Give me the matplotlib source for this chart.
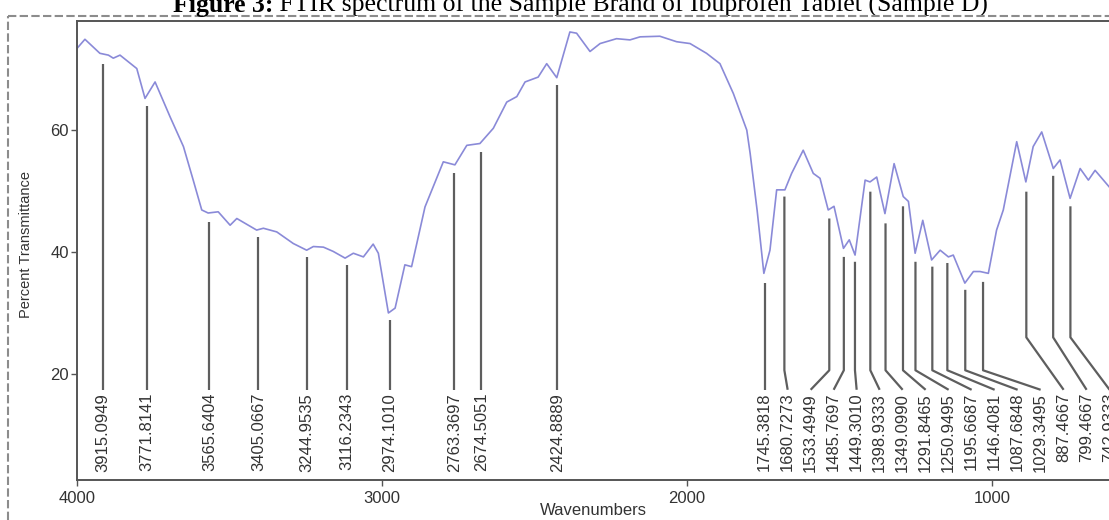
import numpy as np
import matplotlib.pyplot as plt
from matplotlib.lines import Line2D

# FTIR spectrum (cm-1, %T)
wavenumber = [4000, 3974, 3925, 3897, 3881, 3859, 3804, 3777, 3744, 3695,
              3651, 3619, 3591, 3570, 3537, 3498, 3476, 3411, 3389, 3345,
              3291, 3247, 3225, 3192, 3160, 3121, 3094, 3061, 3029, 3012,
              2979, 2957, 2925, 2903, 2859, 2799, 2761, 2722, 2679, 2635,
              2591, 2558, 2531, 2488, 2460, 2427, 2384, 2362, 2318, 2285,
              2231, 2187, 2154, 2089, 2034, 1990, 1936, 1892, 1848, 1804,
              1793, 1770, 1748, 1728, 1706, 1679, 1657, 1619, 1586, 1564,
              1537, 1518, 1487, 1468, 1449, 1416, 1400, 1378, 1351, 1321,
              1291, 1274, 1252, 1227, 1198, 1170, 1143, 1127, 1089, 1061,
              1039, 1012, 985, 963, 919, 889, 865, 837, 799, 777,
              744, 711, 684, 662, 616]
transmittance = [73.4, 74.9, 72.6, 72.3, 71.8, 72.3, 70.1, 65.2, 67.9, 62.2,
                 57.3, 51.8, 46.9, 46.4, 46.6, 44.4, 45.5, 43.6, 43.9, 43.3,
                 41.4, 40.3, 40.9, 40.8, 40.1, 39.0, 39.8, 39.2, 41.3, 39.8,
                 30.0, 30.8, 37.9, 37.6, 47.4, 54.8, 54.3, 57.5, 57.8, 60.3,
                 64.6, 65.5, 67.9, 68.7, 70.9, 68.6, 76.1, 75.9, 72.9, 74.2,
                 75.0, 74.8, 75.3, 75.4, 74.5, 74.2, 72.6, 70.9, 66.0, 60.0,
                 56.2, 46.8, 36.5, 40.3, 50.2, 50.2, 52.9, 56.7, 52.9, 52.1,
                 46.9, 47.5, 40.6, 42.0, 39.5, 51.8, 51.5, 52.3, 46.3, 54.5,
                 49.1, 48.3, 39.8, 45.2, 38.7, 40.3, 39.2, 39.5, 34.9, 36.8,
                 36.8, 36.5, 43.6, 46.9, 58.1, 51.5, 57.3, 59.7, 53.7, 55.1,
                 48.8, 53.7, 51.8, 53.4, 50.7]

peak_labels = ["3915.0949", "3771.8141", "3565.6404", "3405.0667", "3244.9535",
               "3116.2343", "2974.1010", "2763.3697", "2674.5051", "2424.8889",
               "1745.3818", "1680.7273", "1533.4949", "1485.7697", "1449.3010",
               "1398.9333", "1349.0990", "1291.8465", "1250.9495", "1195.6687",
               "1146.4081", "1087.6848", "1029.3495", "887.4667", "799.4667",
               "742.9333"]
peak_top = [70.9, 63.9, 45.0, 42.4, 39.2, 37.9, 28.9, 53.0, 56.4, 67.4,
            34.9, 49.1, 45.5, 39.2, 38.4, 49.9, 44.7, 47.5, 38.4, 37.6,
            38.2, 33.8, 35.1, 49.9, 52.5, 47.5]

W, H = 1109, 520
plt.rcParams["font.family"] = ["Liberation Sans", "DejaVu Sans"]

fig = plt.figure(figsize=(W / 100, H / 100), dpi=100)
ax = fig.add_axes([77 / W, 40 / H, 1032 / W, 459 / H])

ax.plot(wavenumber, transmittance, color="#8a8ad8", lw=1.2)

# peak markers: vertical line from the peak, crowded ones fanned out to the labels
peaks = np.array([float(p) for p in peak_labels])
label_x = peaks.copy()
crowded = peaks < 1800
label_x[crowded] = peaks[crowded][0] - 75.4 * np.arange(crowded.sum())
for p, top, lx, txt in zip(peaks, peak_top, label_x, peak_labels):
    knee = 20.6 if p > 950 else 26.0
    if abs(lx - p) < 1:
        xs, ys = [p, p], [top, 17.4]
    else:
        xs, ys = [p, p, lx], [top, knee, 17.4]
    ax.plot(xs, ys, color="#5e5e5e", lw=1.6, solid_capstyle="butt")
    ax.text(lx, 16.9, txt, rotation=90, ha="center", va="top",
            fontsize=12, color="#333333")

ax.set_xlim(4000, 616.4)
ax.set_ylim(2.6, 77.9)
ax.set_xticks([4000, 3000, 2000, 1000])
ax.set_yticks([20, 40, 60])
ax.tick_params(axis="both", direction="out", length=4, width=1,
               color="#555555", labelsize=12, labelcolor="#333333")
ax.tick_params(axis="y", pad=2)
ax.tick_params(axis="x", pad=4)
for side in ["left", "bottom", "top"]:
    ax.spines[side].set_color("#555555")
    ax.spines[side].set_linewidth(1.4)
ax.spines["right"].set_visible(False)

ax.set_xlabel("Wavenumbers", fontsize=12, color="#333333")
ax.xaxis.set_label_coords(0.5, -0.066)
ax.xaxis.label.set_va("center")
ax.set_ylabel("Percent Transmittance", fontsize=10.5, color="#333333")
ax.yaxis.set_label_coords(-0.049, 0.512)
ax.yaxis.label.set_va("center")

# dashed frame of the screenshot
dash = dict(color="#8c8c8c", lw=1.5, ls=(0, (4, 1.6)))
fig.add_artist(Line2D([8 / W, 8 / W], [0, 1 - 16 / H], **dash))
fig.add_artist(Line2D([8 / W, 1], [1 - 16 / H, 1 - 16 / H], **dash))

# caption, cut off at the top edge, ending near x=988 px
t1 = fig.text(0, 1 - 17 / H, "Figure 3:", fontsize=18.5, fontweight="bold",
              family="Liberation Serif", va="bottom", ha="left")
t2 = ax.annotate(" FTIR spectrum of the Sample Brand of Ibuprofen Tablet (Sample D)",
                 xy=(1, 0), xycoords=t1, va="bottom", ha="left", fontsize=18.5,
                 family="Liberation Serif", annotation_clip=False)
r = fig.canvas.get_renderer()
total = t1.get_window_extent(r).width + t2.get_window_extent(r).width
t1.set_x((988 - total) / W)

fig.savefig("out.png", dpi=100)
